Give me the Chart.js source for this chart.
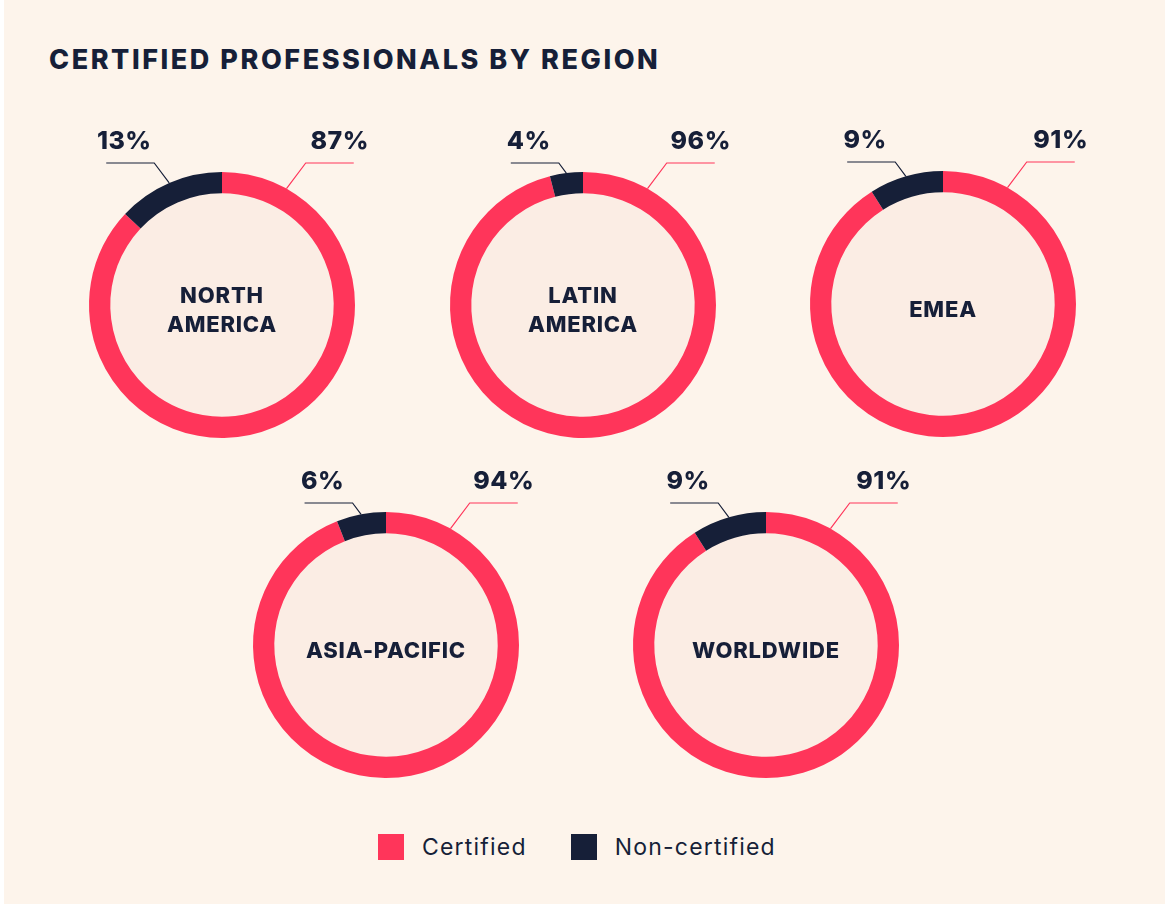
<!DOCTYPE html>
<html>
<head>
<meta charset="utf-8">
<script src="https://cdn.jsdelivr.net/npm/chart.js@4/dist/chart.umd.min.js"></script>
<style>
  body { margin: 0; background: #fff; }
  #page {
    position: absolute; left: 4px; top: 0; width: 1161px; height: 904px;
    background: #fdf4eb; font-family: Inter, "Noto Sans", sans-serif; color: #161f38;
  }
  h1 {
    position: absolute; left: 45px; top: 43px; margin: 0;
    font-size: 27px; font-weight: 800; letter-spacing: 2.55px; line-height: 34px;
  }
  .ring { position: absolute; width: 360px; height: 360px; }
  #legend {
    position: absolute; left: 374px; top: 833px;
    display: flex; font-size: 23px; letter-spacing: 1.2px;
  }
  #legend span.item { display: flex; align-items: center; margin-right: 44px; }
  #legend i { display: inline-block; width: 26px; height: 26px; margin-right: 18px; }
</style>
</head>
<body>
<div id="page">
  <h1>CERTIFIED PROFESSIONALS BY REGION</h1>
  <div id="legend"></div>
</div>
<script>
const seriesNames = ["Certified", "Non-certified"];
const regions = [["NORTH", "AMERICA"], ["LATIN", "AMERICA"], ["EMEA"], ["ASIA-PACIFIC"], ["WORLDWIDE"]];
const certified = [87, 96, 91, 94, 91];
const nonCertified = [13, 4, 9, 6, 9];

const PINK = "#ff355a";
const NAVY = "#161f38";
const INNER = "#fbede4";
// ring centres on the page
const centres = [[218, 305], [579, 305], [939, 304], [382, 645], [762, 645]];

const ringPlugin = {
  id: "ringDeco",
  beforeDatasetsDraw(chart) {
    const arc = chart.getDatasetMeta(0).data[0];
    const ctx = chart.ctx;
    ctx.save();
    ctx.fillStyle = INNER;
    ctx.beginPath();
    ctx.arc(arc.x, arc.y, arc.innerRadius + 1, 0, Math.PI * 2);
    ctx.fill();
    ctx.restore();
  },
  afterDatasetsDraw(chart, args, opts) {
    const meta = chart.getDatasetMeta(0);
    const ctx = chart.ctx;
    const ds = chart.data.datasets[0];
    ctx.save();
    ctx.lineWidth = 1.2;
    ctx.textAlign = "center";
    ctx.textBaseline = "middle";
    ctx.font = "800 25px Inter, sans-serif";
    ctx.letterSpacing = "0.5px";

    meta.data.forEach((arc, i) => {
      const R = arc.outerRadius;
      let a, dir;
      if (i === 0) {
        a = arc.startAngle + 29 * Math.PI / 180;
        dir = 1;
      } else {
        a = (arc.startAngle + arc.endAngle) / 2;
        dir = -1;
      }
      const px = arc.x + R * Math.cos(a);
      const py = arc.y + R * Math.sin(a);
      const ey = arc.y - R - 9;
      const ex = px + dir * 0.75 * (py - ey);
      const hx = ex + dir * 48;
      ctx.strokeStyle = ds.backgroundColor[i];
      ctx.beginPath();
      ctx.moveTo(px, py);
      ctx.lineTo(ex, ey);
      ctx.lineTo(hx, ey);
      ctx.stroke();
      ctx.fillStyle = NAVY;
      const lx = (ex + hx) / 2 + (dir > 0 ? 10 : -6);
      ctx.fillText(ds.data[i] + "%", lx, ey - 22);
    });

    // region name in the middle
    const lines = opts.lines;
    ctx.font = "800 22px Inter, sans-serif";
    ctx.letterSpacing = "0.8px";
    const lh = 29;
    const cx = meta.data[0].x, cy = meta.data[0].y + 6;
    lines.forEach((t, k) => {
      ctx.fillText(t, cx, cy + (k - (lines.length - 1) / 2) * lh);
    });
    ctx.restore();
  }
};

const page = document.getElementById("page");
regions.forEach((name, r) => {
  const c = document.createElement("canvas");
  c.className = "ring";
  c.width = 360; c.height = 360;
  c.style.left = (centres[r][0] - 180) + "px";
  c.style.top = (centres[r][1] - 180) + "px";
  page.appendChild(c);
  new Chart(c, {
    type: "doughnut",
    data: {
      labels: seriesNames,
      datasets: [{
        data: [certified[r], nonCertified[r]],
        backgroundColor: [PINK, NAVY],
        borderWidth: 0,
      }],
    },
    options: {
      responsive: false,
      animation: false,
      cutout: "84%",
      layout: { padding: 47 },
      plugins: {
        legend: { display: false },
        tooltip: { enabled: false },
        ringDeco: { lines: name },
      },
    },
    plugins: [ringPlugin],
  });
});

const legend = document.getElementById("legend");
[PINK, NAVY].forEach((col, i) => {
  const s = document.createElement("span");
  s.className = "item";
  s.innerHTML = '<i style="background:' + col + '"></i>' + seriesNames[i];
  legend.appendChild(s);
});
</script>
</body>
</html>
